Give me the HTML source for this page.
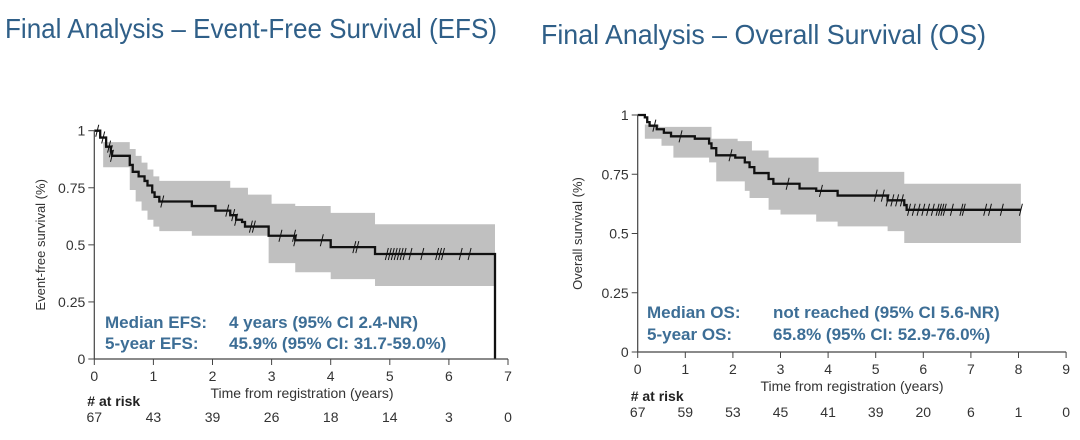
<!DOCTYPE html>
<html><head><meta charset="utf-8"><style>
html,body{margin:0;padding:0;background:#fff;}
svg{display:block;font-family:"Liberation Sans",Arial,sans-serif;}
</style></head><body>
<svg id="s" width="1080" height="440" viewBox="0 0 1080 440" xmlns="http://www.w3.org/2000/svg">
<text x="5" y="38" font-size="28" fill="#2f5f88" textLength="492" lengthAdjust="spacingAndGlyphs">Final Analysis – Event-Free Survival (EFS)</text>
<text x="541" y="44" font-size="28" fill="#2f5f88" textLength="445" lengthAdjust="spacingAndGlyphs">Final Analysis – Overall Survival (OS)</text>
<g id="L"></g><g id="R"></g>
</svg>
<script>
const NS="http://www.w3.org/2000/svg";
function el(p,t,a,txt){const e=document.createElementNS(NS,t);for(const k in a)e.setAttribute(k,a[k]);if(txt!==undefined)e.textContent=txt;p.appendChild(e);return e;}
function chart(g,c){
 const X=t=>c.x0+t*c.xs, Y=v=>c.y0-v*c.ys;
 let up=c.up, lo=c.lo, pts=[];
 for(let i=0;i<up.length;i++){const e=i+1<up.length?up[i+1][0]:c.end;pts.push([X(up[i][0]),Y(up[i][1])],[X(e),Y(up[i][1])]);}
 let lp=[];
 for(let i=0;i<lo.length;i++){const e=i+1<lo.length?lo[i+1][0]:c.end;lp.push([X(lo[i][0]),Y(lo[i][1])],[X(e),Y(lo[i][1])]);}
 lp.reverse();
 el(g,"polygon",{points:pts.concat(lp).map(p=>p.join(",")).join(" "),fill:"#c0c0c0"});
 let d="M"+X(0)+","+Y(1);
 for(const [t,v] of c.s){d+=" H"+X(t)+" V"+Y(v);}
 d+=" H"+X(c.end); if(c.drop)d+=" V"+Y(0);
 el(g,"path",{d:d,fill:"none",stroke:"#111","stroke-width":2.3});
 const sv=t=>{let v=1;for(const [a,b] of c.s)if(a<=t)v=b;return v;};
 for(const t of c.cens){const x=X(t),y=Y(sv(t));el(g,"line",{x1:x-1.5,y1:y+6,x2:x+1.5,y2:y-6,stroke:"#111","stroke-width":1});}
 el(g,"line",{x1:c.x0,y1:Y(1),x2:c.x0,y2:c.y0,stroke:"#444","stroke-width":1.2});
 el(g,"line",{x1:c.x0,y1:c.y0,x2:X(c.xmax),y2:c.y0,stroke:"#444","stroke-width":1.2});
 for(const v of [0,0.25,0.5,0.75,1]){el(g,"line",{x1:c.x0-6,y1:Y(v),x2:c.x0,y2:Y(v),stroke:"#444"});
  el(g,"text",{x:c.x0-9,y:Y(v)+5,"font-size":14,"text-anchor":"end",fill:"#333"},String(v));}
 for(let t=0;t<=c.xmax;t++){el(g,"line",{x1:X(t),y1:c.y0,x2:X(t),y2:c.y0+6,stroke:"#444"});
  el(g,"text",{x:X(t),y:c.y0+22,"font-size":14,"text-anchor":"middle",fill:"#333"},String(t));
  el(g,"text",{x:X(t),y:c.riskY,"font-size":14,"text-anchor":"middle",fill:"#333"},String(c.risk[t]));}
 el(g,"text",{x:c.xtx,y:c.y0+39,"font-size":14,"text-anchor":"middle",fill:"#333"},"Time from registration (years)");
 el(g,"text",{x:c.x0-7,y:c.riskY-16,"font-size":14,"font-weight":"bold",fill:"#222"},"# at risk");
 el(g,"text",{x:0,y:0,"font-size":13,"text-anchor":"middle",fill:"#333",transform:`translate(${c.ylx},${(Y(1)+c.y0)/2}) rotate(-90)`},c.ylab);
 for(const [x,y,t] of c.ann)el(g,"text",{x:x,y:y,"font-size":17,"font-weight":"bold",fill:"#3d6e96"},t);
}
chart(document.getElementById("L"),{x0:94.3,y0:359,xs:59.1,ys:228.3,xmax:7,end:6.78,drop:true,riskY:422,ylx:45,xtx:302,ylab:"Event-free survival (%)",
 s:[[0.1,0.97],[0.2,0.93],[0.28,0.91],[0.3,0.89],[0.6,0.85],[0.65,0.82],[0.75,0.80],[0.85,0.78],[0.9,0.76],[0.98,0.73],[1.02,0.71],[1.1,0.69],[1.65,0.67],[2.05,0.65],[2.3,0.63],[2.4,0.61],[2.5,0.60],[2.55,0.58],[2.95,0.54],[3.4,0.52],[4.0,0.49],[4.75,0.46]],
 up:[[0,1],[0.15,0.95],[0.6,0.92],[0.7,0.89],[0.8,0.86],[0.9,0.83],[1.0,0.80],[1.1,0.78],[2.3,0.75],[2.6,0.72],[3.0,0.68],[3.4,0.67],[4.0,0.64],[4.75,0.59]],
 lo:[[0,1],[0.15,0.84],[0.6,0.74],[0.7,0.69],[0.8,0.65],[0.9,0.61],[1.0,0.58],[1.1,0.56],[1.65,0.54],[2.95,0.42],[3.4,0.38],[4.0,0.35],[4.75,0.32]],
 cens:[0.05,0.15,0.25,0.28,0.3,1.15,2.25,2.35,2.4,2.65,2.7,3.15,3.38,3.4,3.85,4.4,4.45,4.95,5.0,5.05,5.1,5.15,5.2,5.25,5.35,5.55,5.8,5.85,5.9,6.2,6.35],
 risk:[67,43,39,26,18,14,3,0],
 ann:[[105,328,"Median EFS:"],[229,328,"4 years (95% CI 2.4-NR)"],[105,349,"5-year EFS:"],[229,349,"45.9% (95% CI: 31.7-59.0%)"]]});
chart(document.getElementById("R"),{x0:637.7,y0:352,xs:47.6,ys:237,xmax:9,end:8.05,drop:false,riskY:417,ylx:582,xtx:852,ylab:"Overall survival (%)",
 s:[[0.15,0.99],[0.2,0.97],[0.25,0.955],[0.4,0.94],[0.55,0.925],[0.7,0.91],[1.2,0.90],[1.5,0.88],[1.55,0.86],[1.65,0.83],[2.05,0.82],[2.25,0.80],[2.35,0.78],[2.45,0.755],[2.75,0.73],[2.85,0.71],[3.4,0.69],[3.75,0.68],[4.2,0.66],[5.25,0.64],[5.6,0.62],[5.65,0.60]],
 up:[[0,1],[0.15,0.96],[0.45,0.95],[1.55,0.90],[2.1,0.89],[2.4,0.85],[2.75,0.82],[3.8,0.76],[5.6,0.71]],
 lo:[[0,1],[0.15,0.90],[0.5,0.87],[0.75,0.82],[1.5,0.80],[1.65,0.72],[2.25,0.68],[2.35,0.65],[2.75,0.60],[3.0,0.58],[3.75,0.55],[4.2,0.53],[5.25,0.51],[5.6,0.46]],
 cens:[0.35,0.9,1.95,3.15,3.85,5.0,5.15,5.25,5.35,5.45,5.55,5.7,5.8,5.9,6.0,6.1,6.2,6.3,6.35,6.4,6.45,6.6,6.8,6.85,7.3,7.4,7.65,8.05],
 risk:[67,59,53,45,41,39,20,6,1,0],
 ann:[[647,318,"Median OS:"],[773,318,"not reached (95% CI 5.6-NR)"],[647,340,"5-year OS:"],[773,340,"65.8% (95% CI: 52.9-76.0%)"]]});
</script>
</body></html>
